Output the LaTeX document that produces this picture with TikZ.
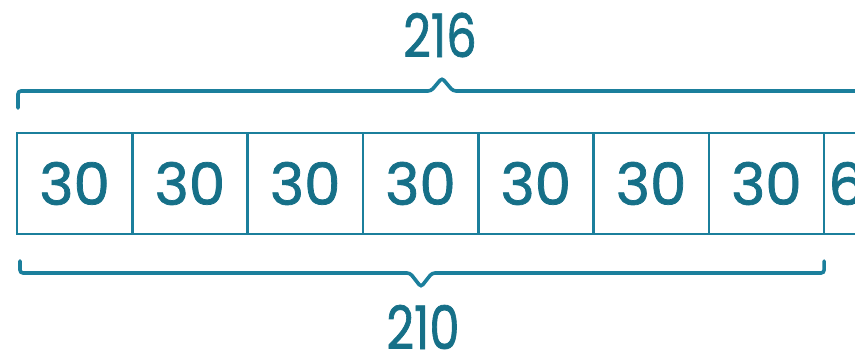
\documentclass[tikz,border=0pt]{standalone}
\usepackage{fontspec}
\setmainfont{Poppins}
\newfontfamily\thickfont[FakeBold=1.3]{Poppins}
\definecolor{teal1}{RGB}{27,127,156}
\definecolor{tealtext}{RGB}{22,112,136}
\tikzset{
  cellbox/.style={draw=teal1, line width=2.6pt, rectangle, minimum width=115.3pt, minimum height=101pt, inner sep=0pt, outer sep=0pt, anchor=west, text=tealtext, font=\thickfont\fontsize{58}{58}\selectfont},
  bracepath/.style={draw=teal1, line width=3.6pt, rounded corners=3pt, line cap=round},
  bracelabel/.style={text=tealtext, inner sep=0pt, font=\thickfont\fontsize{60}{60}\selectfont, xscale=0.8}
}
\begin{document}
\begin{tikzpicture}[x=1pt,y=1pt]
\useasboundingbox (0,0) rectangle (855,357);
\fill[white] (0,0) rectangle (855,357);
\clip (0,0) rectangle (855,357);
% cells
\node[cellbox] (c1) at (17,173.5) {30};
\node[cellbox] (c2) at (c1.east) {30};
\node[cellbox] (c3) at (c2.east) {30};
\node[cellbox] (c4) at (c3.east) {30};
\node[cellbox] (c5) at (c4.east) {30};
\node[cellbox] (c6) at (c5.east) {30};
\node[cellbox] (c7) at (c6.east) {30};
\node[cellbox, minimum width=80pt] (c8) at (c7.east) {};
\node[text=tealtext, inner sep=0pt, anchor=west, font=\thickfont\fontsize{58}{58}\selectfont] (six) at ([xshift=4pt]c8.west) {6};
% top brace
\coordinate (tl) at (18,249);
\coordinate (tr) at (880,249);
\draw[bracepath] (tl) -- (18,266) -- (431,266) -- (442,279) -- (453,266) -- (tr |- 0,266);
\node[bracelabel] (t216) at (440,322) {216};
% bottom brace
\coordinate (bl) at (20,96);
\coordinate (br) at (c7.east |- 0,96);
\draw[bracepath] (bl) -- (20,84) -- (410,84) -- (421,70) -- (432,84) -- (br |- 0,84) -- (br);
\node[bracelabel] (b210) at (423,30) {210};
\end{tikzpicture}
\end{document}
